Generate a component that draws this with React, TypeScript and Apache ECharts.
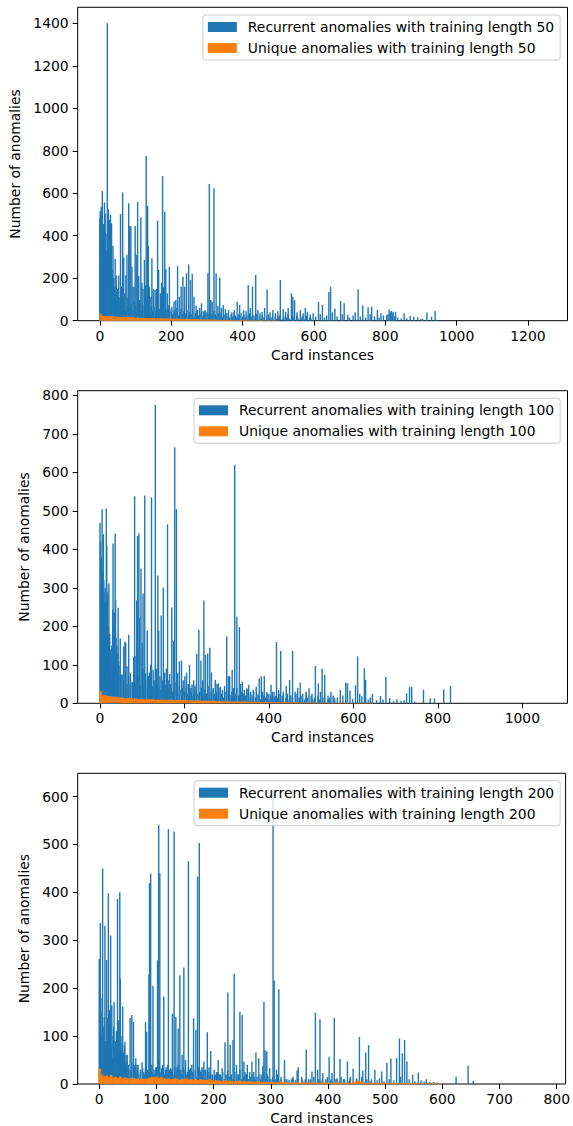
import React, { useEffect, useRef } from "react";
import * as echarts from "echarts";

const W = 573;
const H = 1126;
const FONT = "DejaVu Sans";
const BLUE = "#1f77b4";
const ORANGE = "#ff7f0e";

// ---------- Panel 1: training length 50 ----------
const xTicks50 = [0, 200, 400, 600, 800, 1000, 1200];
const yTicks50 = [0, 200, 400, 600, 800, 1000, 1200, 1400];
// recurrent anomalies, bins 0..56 (one per card instance)
const head50 = [480, 516, 440, 500, 537, 420, 460, 611, 430, 380, 455, 400, 360, 557, 420, 505, 380, 411, 330, 290, 300, 1400, 280, 240, 524, 310, 260, 474, 220, 230, 500, 200, 280, 458, 180, 240, 170, 352, 150, 200, 135, 130, 160, 292, 110, 140, 213, 100, 90, 119, 150, 80, 90, 213, 110, 60, 90];
// recurrent anomalies, every 4th card instance from 0
const floor50 = [
  200, 220, 180, 160, 150, 140, 120, 130, 100, 110, 90, 100, 80, 90, 70,
  80, 60, 90, 50, 70, 100, 60, 80, 50, 90, 70, 40, 60, 85, 50, 70, 45, 60, 90, 55, 40, 70, 50, 65, 45, 80, 40, 55, 70, 45, 35, 60, 50, 40, 55,
  45, 30, 50, 35, 60, 25, 40, 55, 30, 45, 35, 50, 25, 40, 30, 45, 20, 35, 50, 25, 40, 30, 20, 35, 45,
  40, 30, 50, 35, 25, 45, 30, 20, 35, 25, 40, 15, 30, 20, 35, 25, 15, 30, 20, 40, 25, 15, 30, 20, 35,
  20, 30, 15, 25, 0, 35, 20, 10, 25, 15, 30, 0, 20, 10, 25, 15, 0, 20, 30, 10, 15, 25, 0, 20, 10,
  15, 25, 0, 10, 20, 0, 15, 30, 10, 0, 20, 15, 0, 25, 10, 0, 15, 20, 0, 10, 25, 0, 15, 10, 0];
// individual recurrent-anomaly bars [card instance, count]
const spikes50: [number, number][] = [[58, 502], [61, 160], [64, 604], [67, 298], [70, 129], [73, 213], [76, 311], [79, 113], [81, 553], [84, 446], [87, 443], [90, 254], [93, 160], [96, 160], [99, 446], [102, 311], [106, 559], [109, 210], [112, 97], [115, 487], [118, 179], [121, 150], [125, 286], [128, 166], [130, 776], [134, 540], [136, 352], [139, 160], [143, 113], [146, 294], [150, 148], [155, 145], [159, 150], [162, 470], [165, 239], [170, 129], [173, 179], [176, 681], [179, 157], [182, 513], [185, 242], [189, 129], [192, 72], [195, 254], [202, 66], [208, 90], [213, 97], [218, 257], [223, 113], [228, 160], [233, 207], [238, 160], [243, 223], [249, 265], [254, 191], [259, 220], [264, 113], [270, 70], [274, 50], [280, 60], [285, 82], [290, 45], [295, 50], [303, 223], [307, 644], [311, 97], [315, 89], [320, 623], [326, 223], [331, 70], [336, 204], [341, 60], [346, 74], [352, 55], [361, 50], [370, 40], [377, 50], [385, 89], [392, 74], [403, 50], [410, 45], [416, 168], [422, 60], [428, 160], [437, 215], [443, 50], [449, 35], [455, 42], [462, 60], [469, 148], [477, 40], [485, 50], [492, 35], [499, 45], [506, 192], [514, 55], [521, 42], [528, 60], [537, 129], [541, 113], [546, 97], [553, 40], [562, 50], [570, 35], [576, 60], [582, 42], [590, 30], [598, 35], [605, 20], [613, 88], [618, 30], [624, 74], [630, 15], [636, 25], [642, 135], [647, 160], [652, 40], [659, 58], [665, 20], [675, 93], [680, 30], [685, 82], [695, 27], [700, 15], [710, 25], [716, 40], [724, 148], [730, 20], [737, 71], [745, 15], [752, 63], [758, 30], [762, 66], [770, 20], [778, 50], [783, 15], [788, 35], [795, 25], [804, 27], [808, 30], [811, 53], [814, 40], [817, 46], [820, 35], [822, 42], [826, 20], [829, 42], [835, 15], [845, 10], [853, 35], [860, 12], [870, 22], [880, 19], [891, 16], [900, 8], [905, 10], [917, 39], [930, 19], [940, 46], [945, 5]];
// unique anomalies, every 5 card instances from 2
const unique50 = [34, 24, 22, 23, 21, 22, 20, 21, 19, 20, 18, 19, 17, 18, 16, 17, 16, 15, 17, 15, 14, 15, 13, 14, 13, 14, 12, 13, 12, 13, 12, 11, 12, 11, 12, 10, 11, 10, 11, 10, 10, 9, 10, 9, 10, 8, 9, 8, 9, 8, 8, 7, 8, 7, 7, 6, 7, 6, 6, 5, 6, 5, 5, 4, 5, 4, 4, 4, 3, 4, 4, 3, 3, 4, 3, 3, 3, 2, 3, 3, 2, 3, 2, 2, 3, 2, 2, 2, 1, 2, 2, 1, 2, 1, 2, 1, 1, 2, 1, 1];

// ---------- Panel 2: training length 100 ----------
const xTicks100 = [0, 200, 400, 600, 800, 1000];
const yTicks100 = [0, 100, 200, 300, 400, 500, 600, 700, 800];
const head100 = [469, 420, 358, 380, 300, 504, 340, 280, 439, 320, 288, 260, 300, 261, 240, 506, 410, 220, 288, 174, 200, 311, 160, 180, 113, 140, 120, 63, 150, 130, 243, 415, 160, 200, 236, 140, 441, 269, 170, 120, 150, 100, 130, 248, 110];
const floor100 = [
  180, 200, 160, 150, 130, 120, 110, 100, 90, 95, 80, 85, 70, 75, 60,
  60, 50, 70, 45, 55, 80, 50, 40, 65, 45, 90, 50, 60, 40, 70, 55, 45, 60, 40, 50,
  45, 35, 55, 40, 30, 50, 35, 45, 30, 40, 55, 30, 45, 35, 40,
  30, 40, 25, 45, 30, 20, 35, 50, 25, 30, 40, 20, 35, 25, 45, 30, 20, 35, 25, 30, 20, 40, 25, 15, 30,
  25, 35, 20, 30, 15, 25, 40, 20, 15, 30, 25, 20, 35, 15, 25, 20, 30, 15, 25, 20, 10, 30, 20, 15, 25, 10, 20, 30, 15, 20,
  15, 25, 10, 20, 0, 15, 25, 10, 20, 15, 0, 25, 10, 15, 20, 0, 10, 25, 15, 0, 20, 10, 15, 0, 20, 10, 0, 15, 25, 0, 10, 15, 0, 20, 10];
const spikes100: [number, number][] = [[45, 97], [48, 168], [52, 74], [56, 148], [59, 160], [61, 158], [64, 96], [68, 178], [72, 78], [77, 56], [80, 120], [82, 538], [85, 122], [87, 268], [89, 435], [92, 441], [94, 222], [97, 350], [100, 158], [102, 285], [104, 90], [106, 540], [108, 78], [112, 189], [115, 70], [117, 80], [120, 100], [122, 535], [126, 87], [128, 60], [131, 775], [134, 90], [137, 332], [139, 189], [142, 70], [145, 228], [148, 60], [150, 300], [153, 80], [155, 48], [157, 90], [160, 465], [163, 60], [165, 76], [168, 50], [170, 249], [174, 162], [177, 665], [181, 504], [184, 78], [188, 109], [193, 111], [197, 60], [201, 70], [205, 80], [209, 50], [212, 100], [215, 40], [218, 49], [222, 60], [225, 45], [229, 129], [234, 191], [239, 111], [243, 60], [246, 267], [250, 126], [255, 129], [260, 144], [264, 80], [268, 40], [273, 61], [277, 50], [280, 52], [285, 43], [290, 35], [295, 45], [300, 174], [304, 71], [307, 70], [313, 87], [316, 40], [319, 619], [324, 225], [330, 198], [333, 50], [337, 56], [342, 35], [348, 39], [352, 48], [357, 30], [363, 35], [370, 43], [377, 65], [382, 70], [385, 30], [389, 71], [395, 30], [400, 25], [405, 48], [412, 30], [418, 159], [423, 35], [428, 136], [434, 30], [441, 45], [449, 61], [456, 136], [462, 30], [468, 40], [474, 54], [480, 25], [488, 30], [495, 39], [502, 25], [510, 97], [517, 52], [522, 30], [526, 90], [532, 74], [540, 20], [547, 30], [555, 15], [562, 15], [569, 35], [575, 20], [582, 54], [586, 52], [592, 33], [598, 12], [605, 47], [610, 122], [615, 25], [620, 18], [626, 91], [629, 61], [635, 10], [640, 15], [645, 24], [655, 8], [664, 19], [670, 10], [677, 68], [686, 13], [695, 5], [703, 10], [713, 6], [720, 8], [726, 26], [733, 42], [738, 42], [745, 4], [766, 35], [782, 13], [792, 13], [814, 36], [830, 45]];
const unique100 = [32, 22, 21, 20, 19, 18, 17, 17, 16, 15, 15, 14, 13, 14, 13, 12, 13, 12, 11, 12, 11, 10, 11, 10, 11, 10, 9, 10, 9, 10, 10, 9, 9, 10, 9, 8, 9, 9, 8, 9, 8, 8, 7, 8, 7, 7, 8, 7, 6, 7, 7, 6, 6, 7, 6, 5, 6, 6, 5, 5, 5, 5, 4, 5, 4, 5, 4, 4, 5, 4, 4, 3, 4, 4, 3, 4, 3, 3, 4, 3, 3, 3, 2, 3, 3, 2, 3, 2, 3, 2, 2, 2, 3, 2, 2, 2, 1, 2, 2, 1, 2, 1, 2, 1, 2, 1, 1, 2, 1, 1, 2, 1, 1, 1, 2, 1, 1, 1, 1, 1, 1, 1, 1, 1, 1, 1, 1, 1, 1, 1];

// ---------- Panel 3: training length 200 ----------
const xTicks200 = [0, 100, 200, 300, 400, 500, 600, 700, 800];
const yTicks200 = [0, 100, 200, 300, 400, 500, 600];
const head200 = [261, 200, 336, 150, 101, 180, 450, 120, 95, 140, 330, 90, 54, 259, 100, 138, 398, 110, 154, 90, 310, 80, 164, 54, 100, 120, 171, 80, 90, 57, 110, 75, 386, 90, 133, 70, 400, 220, 85, 70, 100, 162, 66, 50, 80, 88, 40, 60, 45];
// every 3rd card instance from 0
const floor200 = [
  100, 90, 80, 95, 70, 85, 60, 75, 65, 80, 55, 70, 50, 60, 45, 55, 50,
  40, 30, 45, 25, 35, 40, 20, 30, 45, 25, 35, 20, 30, 40, 25, 20, 35, 30, 45, 25, 30, 20, 35, 40, 25, 30, 20, 35, 25, 40, 30, 20, 35,
  30, 20, 35, 25, 40, 20, 30, 15, 35, 25, 20, 30, 15, 25, 35, 20, 15, 30, 20, 25,
  20, 15, 25, 10, 20, 30, 15, 20, 10, 25, 15, 20, 30, 10, 15, 25, 20, 10, 15, 20, 25, 10, 15, 20, 10, 15, 25, 10, 20, 15,
  10, 15, 0, 10, 20, 5, 10, 0, 15, 10, 5, 0, 10, 15, 0, 5, 10, 0, 15, 5, 10, 0, 5, 10, 0, 15, 5, 0, 10, 5,
  10, 0, 5, 15, 0, 10, 5, 0, 10, 0, 5, 15, 0, 10, 0, 5, 10, 0, 5, 0, 10, 5, 0, 15, 0, 5, 10, 0, 5, 0];
const spikes200: [number, number][] = [[49, 61], [51, 30], [54, 138], [57, 144], [60, 130], [62, 40], [64, 54], [66, 30], [68, 40], [72, 25], [76, 33], [79, 20], [81, 129], [83, 109], [85, 30], [87, 228], [88, 419], [90, 439], [92, 40], [94, 205], [96, 30], [98, 21], [100, 35], [102, 258], [104, 540], [106, 440], [109, 33], [111, 40], [113, 182], [116, 30], [118, 29], [121, 532], [123, 30], [125, 33], [128, 147], [131, 527], [134, 140], [136, 35], [138, 116], [141, 227], [143, 30], [145, 61], [148, 243], [151, 50], [154, 25], [156, 465], [158, 30], [160, 33], [163, 25], [165, 137], [169, 113], [172, 433], [175, 503], [178, 30], [180, 35], [183, 47], [186, 30], [189, 108], [192, 25], [195, 69], [198, 20], [202, 19], [205, 25], [208, 50], [212, 20], [215, 33], [220, 87], [225, 191], [229, 82], [234, 92], [236, 230], [240, 40], [243, 20], [246, 151], [250, 144], [253, 47], [256, 20], [259, 40], [263, 25], [267, 47], [271, 15], [274, 66], [279, 54], [283, 20], [286, 37], [288, 171], [290, 71], [293, 68], [298, 33], [304, 614], [306, 216], [310, 30], [314, 198], [318, 15], [324, 50], [328, 10], [332, 9], [338, 12], [343, 8], [346, 28], [348, 35], [355, 10], [362, 72], [366, 10], [372, 26], [378, 149], [382, 30], [386, 135], [391, 23], [396, 10], [402, 57], [407, 23], [411, 138], [416, 12], [421, 52], [427, 10], [434, 47], [439, 15], [444, 32], [450, 12], [455, 98], [461, 28], [466, 66], [471, 81], [476, 10], [482, 30], [486, 8], [490, 12], [494, 26], [498, 6], [503, 44], [507, 10], [510, 53], [515, 8], [520, 54], [525, 95], [527, 15], [530, 64], [534, 92], [538, 47], [542, 10], [548, 19], [552, 6], [558, 24], [563, 8], [568, 5], [572, 10], [578, 4], [585, 4], [590, 3], [624, 15], [645, 38], [654, 7]];
// every 4 card instances from 1
const unique200 = [32, 20, 16, 18, 15, 19, 14, 15, 13, 16, 12, 14, 12, 11, 13, 12, 11, 12, 10, 11, 11, 12, 13, 15, 14, 16, 13, 14, 12, 11, 12, 10, 11, 12, 10, 9, 11, 10, 12, 9, 10, 9, 11, 8, 10, 9, 8, 9, 10, 8, 7, 8, 7, 6, 7, 8, 6, 7, 6, 5, 6, 7, 5, 6, 5, 6, 5, 4, 5, 6, 5, 4, 5, 4, 4, 5, 4, 3, 4, 5, 4, 3, 4, 3, 4, 3, 4, 3, 3, 4, 3, 4, 3, 3, 4, 3, 2, 3, 4, 3, 3, 2, 3, 3, 4, 3, 2, 3, 3, 2, 3, 4, 6, 7, 5, 3, 3, 2, 3, 2, 3, 2, 2, 3, 2, 2, 3, 2, 2, 2, 2, 1, 2, 2, 1, 2, 1, 2, 1, 1, 1, 2, 1, 1, 1, 1, 1, 1, 1, 1];

const GRID_LEFT = 77.7;
const GRID_W = 489.8;

const panels = [
  { len: 50, top: 7.3, height: 313.4, xmin: -62, xmax: 1311, ymax: 1475.5, xTicks: xTicks50, yTicks: yTicks50, head: head50, floor: floor50, floorStep: 4, spikes: spikes50, unique: unique50, uStart: 2, uStep: 5, yNameGap: 46, legendTop: 15 },
  { len: 100, top: 390.7, height: 312.6, xmin: -52.8, xmax: 1107, ymax: 812, xTicks: xTicks100, yTicks: yTicks100, head: head100, floor: floor100, floorStep: 4, spikes: spikes100, unique: unique100, uStart: 2, uStep: 5, yNameGap: 38, legendTop: 398.3 },
  { len: 200, top: 773.3, height: 312.7, xmin: -37.6, xmax: 815.5, ymax: 648.5, xTicks: xTicks200, yTicks: yTicks200, head: head200, floor: floor200, floorStep: 3, spikes: spikes200, unique: unique200, uStart: 1, uStep: 4, yNameGap: 38, legendTop: 780.7 },
];

const axisText = { fontFamily: FONT, fontSize: 13.9, color: "#000" };
const plain = (v: number) => String(v);

function buildOption() {
  const grid: any[] = [];
  const xAxis: any[] = [];
  const yAxis: any[] = [];
  const legend: any[] = [];
  const series: any[] = [];
  panels.forEach((p, k) => {
    const recName = `Recurrent anomalies with training length ${p.len}`;
    const uniName = `Unique anomalies with training length ${p.len}`;
    grid.push({ left: GRID_LEFT, width: GRID_W, top: p.top, height: p.height, show: true, borderColor: "#000", borderWidth: 1, backgroundColor: "rgba(0,0,0,0)" });
    xAxis.push({
      type: "value", gridIndex: k, min: p.xmin, max: p.xmax, position: "bottom",
      axisLine: { show: false, onZero: false },
      axisTick: { show: true, length: 5, lineStyle: { color: "#000", width: 1 }, customValues: p.xTicks },
      axisLabel: { ...axisText, margin: 8, customValues: p.xTicks, formatter: plain },
      splitLine: { show: false },
      name: "Card instances", nameLocation: "middle", nameGap: 27, nameTextStyle: axisText,
    });
    xAxis.push({ type: "value", gridIndex: k, min: p.xmin, max: p.xmax, show: false, axisLine: { onZero: false }, splitLine: { show: false } });
    yAxis.push({
      type: "value", gridIndex: k, min: 0, max: p.ymax, position: "left",
      axisLine: { show: false, onZero: false },
      axisTick: { show: true, length: 5, lineStyle: { color: "#000", width: 1 }, customValues: p.yTicks },
      axisLabel: { ...axisText, margin: 9, customValues: p.yTicks, formatter: plain },
      splitLine: { show: false },
      name: "Number of anomalies", nameLocation: "middle", nameGap: p.yNameGap, nameRotate: 90, nameTextStyle: axisText,
    });
    legend.push({
      data: [recName, uniName], orient: "vertical", right: W - 560.2, top: p.legendTop,
      icon: "rect", itemWidth: 29, itemHeight: 10, itemGap: 5,
      padding: [4, 6, 4, 5], backgroundColor: "rgba(255,255,255,0.8)", borderColor: "#cccccc", borderWidth: 1, borderRadius: 3,
      selectedMode: false,
      textStyle: { fontFamily: FONT, fontSize: 13.9, color: "#000", lineHeight: 16, padding: [0, 0, 0, 6] },
    });
    const blue: [number, number][] = [];
    p.head.forEach((v, i) => blue.push([i, v]));
    p.floor.forEach((v, i) => { const x = i * p.floorStep; if (x >= p.head.length && v > 0) blue.push([x, v]); });
    p.spikes.forEach((d) => blue.push([d[0], d[1]]));
    const orange = p.unique.map((v, i) => [p.uStart + i * p.uStep, v]);
    const oWidth = (p.uStep * GRID_W) / (p.xmax - p.xmin) + 0.3;
    series.push({
      type: "bar", name: recName, xAxisIndex: 2 * k, yAxisIndex: k, data: blue,
      barWidth: 1.4, barMinWidth: 1.4, itemStyle: { color: BLUE }, silent: true,
    });
    series.push({
      type: "bar", name: uniName, xAxisIndex: 2 * k + 1, yAxisIndex: k, data: orange,
      barWidth: oWidth, barMinWidth: oWidth, itemStyle: { color: ORANGE }, silent: true,
    });
  });
  return { animation: false, backgroundColor: "#fff", textStyle: { fontFamily: FONT }, grid, xAxis, yAxis, legend, series };
}

export default function App() {
  const ref = useRef<HTMLDivElement>(null);
  useEffect(() => {
    const chart = echarts.init(ref.current!, null, { renderer: "svg", width: W, height: H });
    chart.setOption(buildOption() as any);
    return () => chart.dispose();
  }, []);
  return <div ref={ref} style={{ position: "absolute", left: 0, top: 0, width: W, height: H, background: "#fff" }} />;
}
